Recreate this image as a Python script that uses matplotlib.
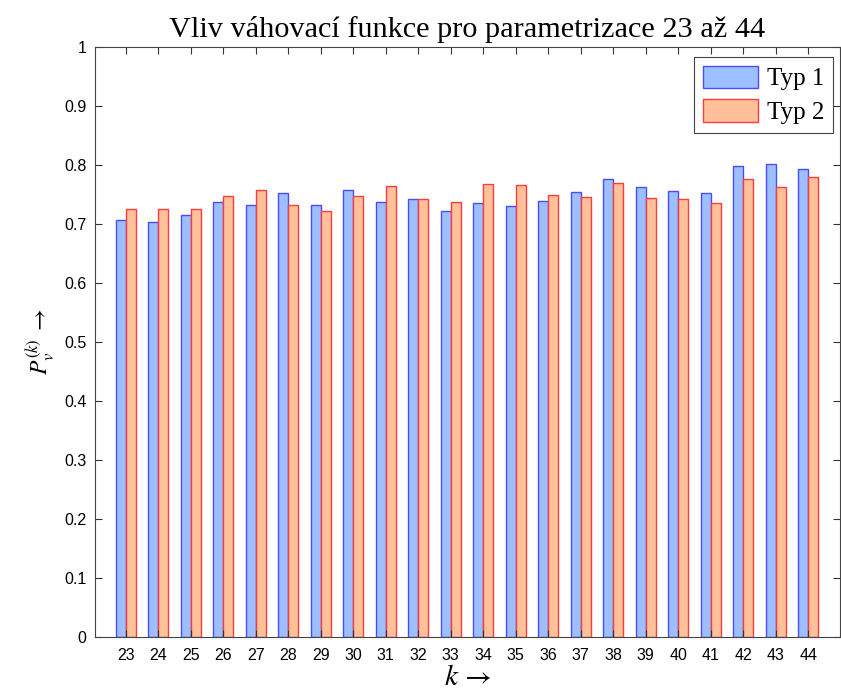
import matplotlib
matplotlib.use("Agg")
import matplotlib.pyplot as plt
import numpy as np

k = list(range(23, 45))
typ1 = [0.707, 0.704, 0.716, 0.737, 0.732, 0.752, 0.732, 0.757, 0.738, 0.743, 0.722,
        0.735, 0.731, 0.739, 0.755, 0.777, 0.762, 0.756, 0.753, 0.799, 0.801, 0.794]
typ2 = [0.725, 0.726, 0.725, 0.748, 0.758, 0.732, 0.722, 0.747, 0.764, 0.742, 0.738,
        0.768, 0.766, 0.749, 0.746, 0.769, 0.744, 0.743, 0.735, 0.777, 0.762, 0.779]
labels = ["Typ 1", "Typ 2"]
title = "Vliv váhovací funkce pro parametrizace 23 až 44"
yticks = [0, 0.1, 0.2, 0.3, 0.4, 0.5, 0.6, 0.7, 0.8, 0.9, 1]

plt.rcParams['mathtext.fontset'] = 'stix'

fig = plt.figure(figsize=(8.41, 6.96), dpi=100)
ax = fig.add_axes([95/841, 1 - 637/696, 745/841, 590/696])

x = np.array(k, dtype=float)
w = 0.31
ax.bar(x - w/2, typ1, width=w, color='#9DBFFF', edgecolor='#4A4AFF', linewidth=1.0, label=labels[0])
ax.bar(x + w/2, typ2, width=w, color='#FFC09A', edgecolor='#FF3B3B', linewidth=1.0, label=labels[1])

ax.set_xlim(22.05, 44.98)
ax.set_ylim(0, 1)
ax.set_xticks(k)
ax.set_xticklabels([str(v) for v in k], family='Liberation Sans', fontsize=11.5)
ax.set_yticks(yticks)
ax.set_yticklabels([f"{v:g}" for v in yticks], family='Liberation Sans', fontsize=11.5)
ax.tick_params(axis='both', direction='in', top=True, right=True, length=5, width=0.8,
               colors='#333333', labelcolor='black')
ax.tick_params(axis='x', pad=8)
ax.tick_params(axis='y', pad=6)
for s in ax.spines.values():
    s.set_linewidth(0.8)
    s.set_color('#444444')

ax.set_title(title, family='Liberation Serif', fontsize=21.8, pad=7)
ax.set_xlabel(r"$k\,\rightarrow$", fontsize=21, labelpad=0)
ax.set_ylabel(r"$P_v^{(k)}\;\rightarrow$", fontsize=17, labelpad=5)

leg = ax.legend(loc='upper right', bbox_to_anchor=(833/841, 1 - 57/696), bbox_transform=fig.transFigure,
                prop={'family': 'Liberation Serif', 'size': 18},
                fancybox=False, edgecolor='#444444', framealpha=1,
                handlelength=2.2, handleheight=1.0, borderaxespad=0.0,
                labelspacing=0.35, handletextpad=0.35, borderpad=0.35)
leg.get_frame().set_linewidth(0.8)

fig.savefig("out.png", dpi=100)
